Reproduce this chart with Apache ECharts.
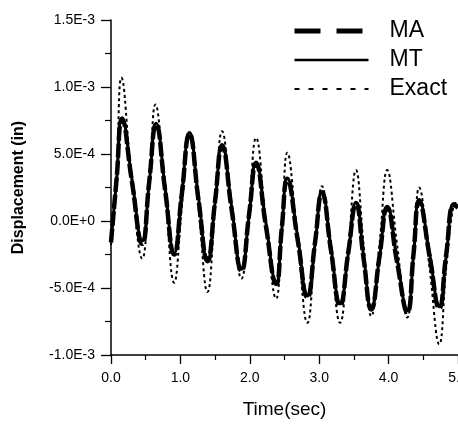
<!DOCTYPE html>
<html><head><meta charset="utf-8">
<script src="https://cdn.jsdelivr.net/npm/echarts@6/dist/echarts.min.js"></script>
<style>html,body{margin:0;padding:0;background:#fff}#c{width:458px;height:424px}</style>
</head><body><div id="c"></div>
<script>
// Time (sec) of read points
const timeMT = [0.00,0.08,0.16,0.30,0.45,0.55,0.65,0.78,0.91,1.02,1.13,1.26,1.39,1.50,1.60,1.74,1.88,1.99,2.09,2.23,2.38,2.46,2.54,2.69,2.83,2.94,3.04,3.17,3.30,3.42,3.53,3.64,3.75,3.87,3.98,4.12,4.27,4.36,4.44,4.59,4.73,4.83,4.94,5.00];
// Displacement (x1e-4 in)
const valuesMT = [-1.5,3.0,7.7,3.2,-1.5,2.8,7.3,2.5,-2.4,2.1,6.6,1.8,-2.9,1.4,5.7,1.0,-3.6,0.4,4.4,-0.1,-4.6,-0.7,3.2,-1.2,-5.6,-1.7,2.2,-2.0,-6.2,-2.4,1.4,-2.6,-6.5,-2.7,1.1,-2.8,-6.7,-2.5,1.6,-2.4,-6.4,-2.6,1.3,1.1];
const timeMA = [0.00,0.08,0.16,0.30,0.45,0.55,0.65,0.78,0.91,1.02,1.13,1.26,1.39,1.50,1.60,1.74,1.88,1.99,2.09,2.23,2.38,2.46,2.54,2.69,2.83,2.94,3.04,3.17,3.30,3.42,3.53,3.64,3.75,3.87,3.98,4.12,4.27,4.36,4.44,4.59,4.73,4.83,4.94,5.00];
const valuesMA = [-1.6,3.1,7.6,3.0,-1.7,2.9,7.2,2.3,-2.5,2.0,6.5,1.6,-3.0,1.5,5.6,0.8,-3.7,0.5,4.3,-0.3,-4.7,-0.6,3.1,-1.4,-5.7,-1.6,2.1,-2.2,-6.3,-2.3,1.3,-2.8,-6.6,-2.6,1.0,-3.0,-6.8,-2.4,1.5,-2.6,-6.5,-2.5,1.2,1.0];
const timeExact = [0.00,0.08,0.15,0.30,0.45,0.55,0.64,0.78,0.91,1.02,1.13,1.26,1.39,1.50,1.60,1.74,1.88,1.99,2.09,2.23,2.38,2.46,2.54,2.69,2.83,2.94,3.04,3.17,3.30,3.42,3.53,3.64,3.75,3.87,3.98,4.12,4.27,4.36,4.44,4.59,4.73,4.83,4.93,5.00];
const valuesExact = [-1.8,3.5,10.7,3.0,-2.8,2.5,8.7,2.0,-4.6,1.0,6.5,1.0,-5.3,1.0,6.7,0.8,-4.3,1.0,6.2,0.0,-5.8,-0.8,5.1,-1.5,-7.6,-2.0,2.6,-2.6,-7.6,-2.0,3.8,-1.8,-7.1,-1.7,3.8,-1.7,-7.2,-2.5,2.5,-3.5,-9.2,-3.5,1.0,1.5];
const seriesNames = ['MA','MT','Exact'];
const xTickLabels = ['0.0','1.0','2.0','3.0','4.0','5.0'];
const yTickLabels = ['-1.0E-3','-5.0E-4','0.0E+0','5.0E-4','1.0E-3','1.5E-3'];
const yMin = -1.0e-3, yMax = 1.5e-3, yStep = 5e-4;

const toPairs = (t, v) => t.map((x, i) => [x, v[i] * 1e-4]);
const FONT = 'Liberation Sans, Arial, sans-serif';

const chart = echarts.init(document.getElementById('c'), null, {renderer: 'canvas'});
chart.setOption({
  animation: false,
  backgroundColor: '#fff',
  color: ['#000', '#000', '#000'],
  grid: {left: 111, right: 0, top: 20, bottom: 69, containLabel: false, outerBoundsMode: 'none'},
  legend: {
    orient: 'vertical', left: 287, top: 14,
    itemWidth: 74, itemHeight: 24, itemGap: 5,
    itemStyle: {opacity: 0},
    textStyle: {fontFamily: FONT, fontSize: 23, color: '#000', lineHeight: 24, padding: [0, 0, 0, 16]},
    data: [
      {name: seriesNames[0], itemStyle: {opacity: 0}, lineStyle: {color: '#000', width: 5, type: [26, 16]}},
      {name: seriesNames[1], itemStyle: {opacity: 0}, lineStyle: {color: '#000', width: 2.5, type: 'solid'}},
      {name: seriesNames[2], itemStyle: {opacity: 0}, lineStyle: {color: '#000', width: 2, type: [5, 9]}}
    ]
  },
  xAxis: {
    type: 'value', min: 0, max: 5, interval: 1,
    name: 'Time(sec)', nameLocation: 'middle', nameGap: 45,
    nameTextStyle: {fontFamily: FONT, fontSize: 19, color: '#000'},
    axisLine: {onZero: false, lineStyle: {color: '#000', width: 1.5}},
    axisTick: {show: true, inside: false, length: 9, lineStyle: {color: '#000', width: 1.3}},
    minorTick: {show: true, splitNumber: 2, length: 5, lineStyle: {color: '#000', width: 1.2}},
    splitLine: {show: false},
    axisLabel: {fontFamily: FONT, fontSize: 14, color: '#000', margin: 16, showMaxLabel: true,
      formatter: v => xTickLabels[Math.round(v)]}
  },
  yAxis: {
    type: 'value', min: yMin, max: yMax, interval: yStep,
    name: 'Displacement (in)', nameLocation: 'middle', nameGap: 84, nameRotate: 90,
    nameTextStyle: {fontFamily: FONT, fontSize: 16, fontWeight: 'bold', color: '#000'},
    axisLine: {show: true, lineStyle: {color: '#000', width: 1.5}},
    axisTick: {show: true, inside: false, length: 10, lineStyle: {color: '#000', width: 1.3}},
    minorTick: {show: true, splitNumber: 2, length: 6, lineStyle: {color: '#000', width: 1.2}},
    splitLine: {show: false},
    axisLabel: {fontFamily: FONT, fontSize: 14, color: '#000', margin: 16,
      formatter: v => yTickLabels[Math.round((v - yMin) / yStep)]}
  },
  series: [
    {name: seriesNames[2], type: 'line', data: toPairs(timeExact, valuesExact), smooth: 0.45, symbol: 'none',
      itemStyle: {color: '#000'}, lineStyle: {color: '#000', width: 2, type: [3, 3]}, z: 2},
    {name: seriesNames[1], type: 'line', data: toPairs(timeMT, valuesMT), smooth: 0.5, symbol: 'none',
      itemStyle: {color: '#000'}, lineStyle: {color: '#000', width: 3}, z: 3},
    {name: seriesNames[0], type: 'line', data: toPairs(timeMA, valuesMA), smooth: 0.5, symbol: 'none',
      itemStyle: {color: '#000'}, lineStyle: {color: '#000', width: 4.5, type: [14, 3]}, z: 4}
  ]
});
</script>
</body></html>
